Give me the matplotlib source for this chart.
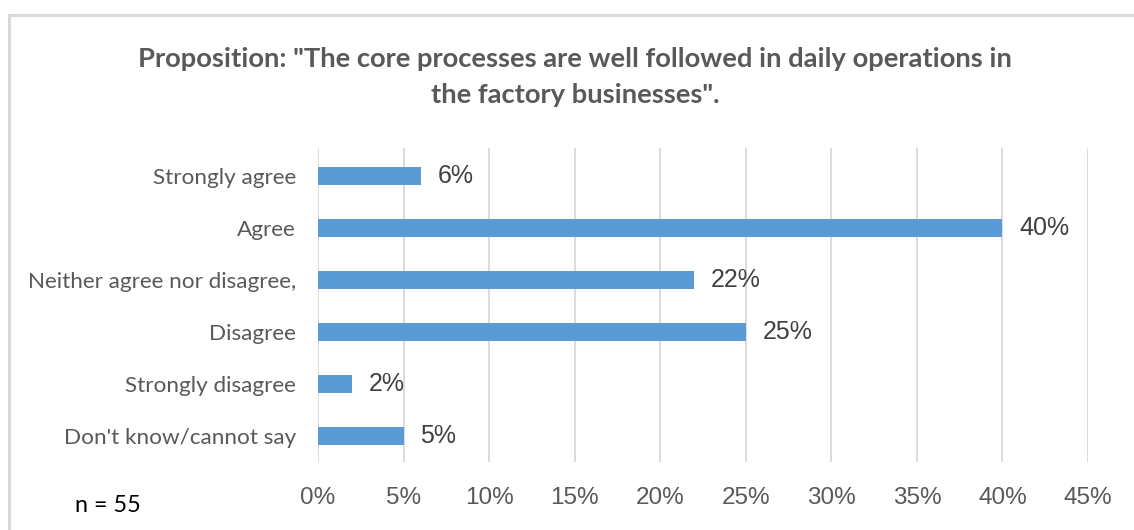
import matplotlib
matplotlib.use("Agg")
import matplotlib.pyplot as plt
from matplotlib.lines import Line2D

categories = [
    "Strongly agree",
    "Agree",
    "Neither agree nor disagree,",
    "Disagree",
    "Strongly disagree",
    "Don't know/cannot say",
]
shares = [6, 40, 22, 25, 2, 5]
tick_values = [0, 5, 10, 15, 20, 25, 30, 35, 40, 45]
tick_labels = [f"{v}%" for v in tick_values]

title = 'Proposition: "The core processes are well followed in daily operations in\nthe factory businesses".'
note = "n = 55"

BAR = "#5B9BD5"
TEXT = "#595959"
GRID = "#D9D9D9"

W, H, DPI = 1134, 530, 100
fig = plt.figure(figsize=(W / DPI, H / DPI), dpi=DPI)
fig.patch.set_facecolor("white")

ax = fig.add_axes([318 / W, 1 - 462 / H, (1088 - 318) / W, (462 - 148) / H])

ypos = list(range(len(categories)))
ax.barh(ypos, shares, height=0.355, color=BAR, zorder=3)
ax.set_ylim(5.5, -0.54)
ax.set_xlim(0, 45)

ax.set_xticks(tick_values)
ax.set_xticklabels(tick_labels, fontfamily="Liberation Sans", fontsize=17.5, color=TEXT)
ax.tick_params(axis="x", length=0, pad=18)
ax.set_yticks(ypos)
ax.set_yticklabels(categories, fontfamily="Lato", fontsize=16.2, color=TEXT)
ax.tick_params(axis="y", length=0, pad=16)

ax.grid(axis="x", color=GRID, linewidth=1.3, zorder=0)
ax.grid(axis="y", visible=False)
for s in ax.spines.values():
    s.set_visible(False)

for y, v in zip(ypos, shares):
    ax.annotate(f"{v}%", (v, y), xytext=(12, 0), textcoords="offset points",
                ha="left", va="center", fontfamily="Liberation Sans",
                fontsize=18, color="#404040")

fig.text(575 / W, 1 - 77 / H, title, ha="center", va="center", fontfamily="Lato",
         fontweight="bold", fontsize=19.7, color=TEXT, linespacing=1.56)
fig.text(75 / W, 1 - 505 / H, note, ha="left", va="center", fontfamily="Lato",
         fontsize=16.8, color="#000000")

# outer frame (left and top edges)
fig.add_artist(Line2D([8.7 / W, 8.7 / W], [0, 1 - 14.7 / H], transform=fig.transFigure,
                      color=GRID, linewidth=2.2))
fig.add_artist(Line2D([8.7 / W, 1], [1 - 14.7 / H, 1 - 14.7 / H], transform=fig.transFigure,
                      color=GRID, linewidth=2.2))

fig.savefig("out.png", dpi=DPI)
